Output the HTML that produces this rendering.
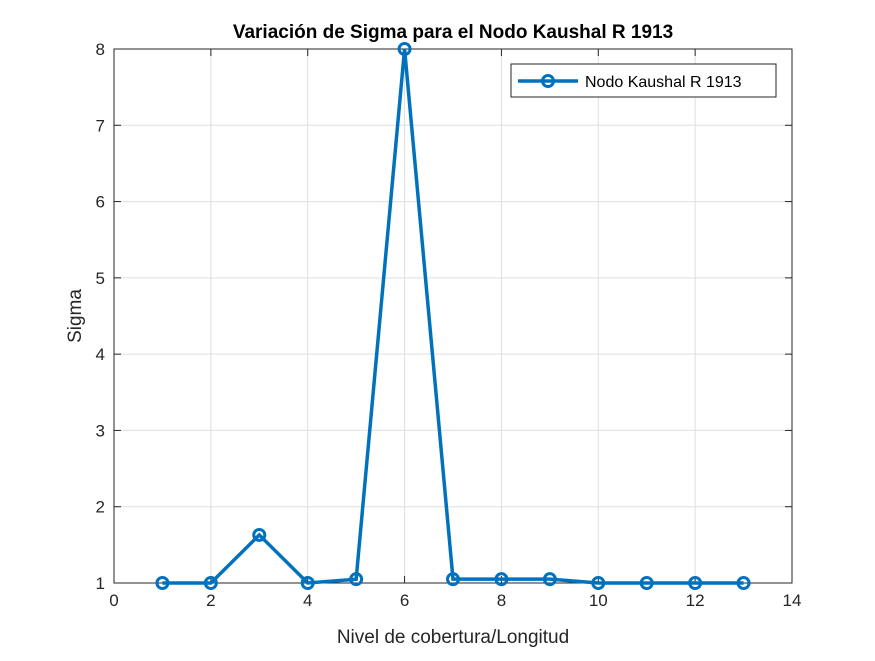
<!DOCTYPE html>
<html><head><meta charset="utf-8"><style>
body{margin:0;background:#fff;}
svg text{font-family:"Liberation Sans",Arial,sans-serif;}
</style></head><body>
<svg width="875" height="656" xmlns="http://www.w3.org/2000/svg">
<rect width="875" height="656" fill="#fff"/>
<g id="grid"></g>
<g id="axes"></g>
<g id="series"></g>
<text x="453" y="38" text-anchor="middle" font-size="19" font-weight="bold" fill="#000">Variación de Sigma para el Nodo Kaushal R 1913</text>
<text x="453" y="643" text-anchor="middle" font-size="19" fill="#262626">Nivel de cobertura/Longitud</text>
<text transform="translate(81,316) rotate(-90)" text-anchor="middle" font-size="19" fill="#262626">Sigma</text>
<g>
<rect x="511" y="64" width="265" height="33" fill="#fff" stroke="#262626" stroke-width="1"/>
<line x1="518" y1="81" x2="578" y2="81" stroke="#0072BD" stroke-width="3.5"/>
<circle cx="548" cy="81" r="5.5" fill="none" stroke="#0072BD" stroke-width="3"/>
<text x="585" y="87" font-size="16" fill="#000">Nodo Kaushal R 1913</text>
</g>
</svg>
<script>
const xValues=[1,2,3,4,5,6,7,8,9,10,11,12,13];
const sigmaValues=[1,1,1.63,1,1.05,8,1.05,1.05,1.05,1,1,1,1];
const xTicks=[0,2,4,6,8,10,12,14];
const yTicks=[1,2,3,4,5,6,7,8];
const L=114,R=792,T=49,B=583,xMin=0,xMax=14,yMin=1,yMax=8;
const sx=v=>L+(v-xMin)/(xMax-xMin)*(R-L);
const sy=v=>B-(v-yMin)/(yMax-yMin)*(B-T);
const NS="http://www.w3.org/2000/svg";
function mk(tag,attrs,parent){const e=document.createElementNS(NS,tag);for(const k in attrs)e.setAttribute(k,attrs[k]);parent.appendChild(e);return e;}
const grid=document.getElementById('grid'),axes=document.getElementById('axes'),series=document.getElementById('series');
xTicks.forEach(t=>{
 const g=mk('line',{x1:sx(t),x2:sx(t),y1:T,y2:B,stroke:'#dfdfdf','stroke-width':1},grid);
 
 
 const tk=mk('line',{x1:sx(t),x2:sx(t),y1:B,y2:B-7,stroke:'#262626'},axes);
 
 
 const tk2=mk('line',{x1:sx(t),x2:sx(t),y1:T,y2:T+7,stroke:'#262626'},axes);
 
 
 const tx=mk('text',{x:sx(t),y:B+23,'text-anchor':'middle','font-size':17,fill:'#262626'},axes);
 tx.textContent=t;
 
 
});
yTicks.forEach(t=>{
 const g=mk('line',{x1:L,x2:R,y1:sy(t),y2:sy(t),stroke:'#dfdfdf','stroke-width':1},grid);
 
 
 const tk=mk('line',{x1:L,x2:L+7,y1:sy(t),y2:sy(t),stroke:'#262626'},axes);
 
 
 const tk2=mk('line',{x1:R,x2:R-7,y1:sy(t),y2:sy(t),stroke:'#262626'},axes);
 
 
 const tx=mk('text',{x:L-9,y:sy(t)+6,'text-anchor':'end','font-size':17,fill:'#262626'},axes);
 tx.textContent=t;
 
 
});
const box=mk('rect',{x:L,y:T,width:R-L,height:B-T,fill:'none',stroke:'#262626','stroke-width':1},axes);


const pts=xValues.map((x,i)=>sx(x)+','+sy(sigmaValues[i])).join(' ');
const line=mk('polyline',{points:pts,fill:'none',stroke:'#0072BD','stroke-width':3.5,'stroke-linejoin':'miter'},series);


xValues.forEach((x,i)=>{
 const c=mk('circle',{cx:sx(x),cy:sy(sigmaValues[i]),r:5.5,fill:'none',stroke:'#0072BD','stroke-width':3},series);
 
 
});
</script>
</body></html>
